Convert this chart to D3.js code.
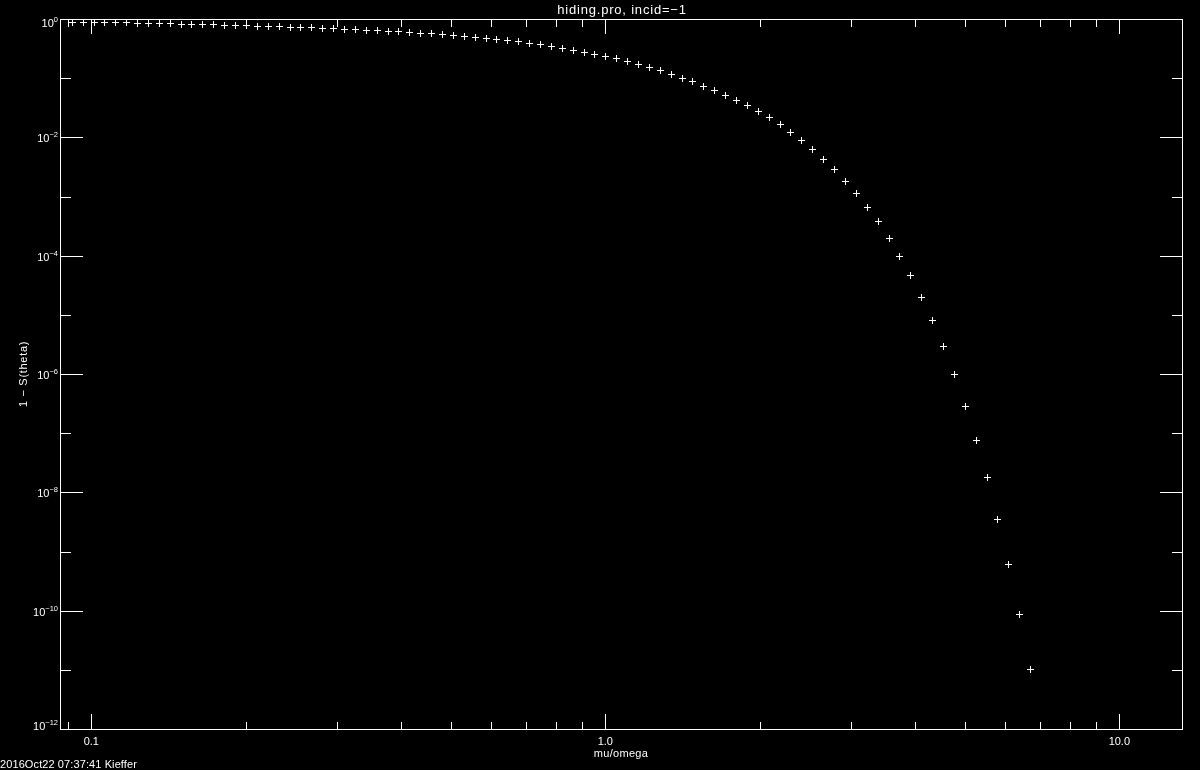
<!DOCTYPE html>
<html>
<head>
<meta charset="utf-8">
<script src="https://cdn.jsdelivr.net/npm/d3@7"></script>
<style>
  html, body { margin: 0; padding: 0; background: #000; }
  svg { display: block; will-change: transform; }
  text { fill: #fff; font-family: "Liberation Sans", Arial, sans-serif; }
</style>
</head>
<body>
<svg id="chart" width="1200" height="770"></svg>
<script>
// ---- data ----
const muOmega = [
  0.0916, 0.0962, 0.1010, 0.1060, 0.1113, 0.1169, 0.1227, 0.1289, 0.1353, 0.1421,
  0.1492, 0.1566, 0.1645, 0.1727, 0.1813, 0.1904, 0.1999, 0.2099, 0.2204, 0.2314,
  0.2430, 0.2551, 0.2679, 0.2813, 0.2953, 0.3101, 0.3256, 0.3419, 0.3590, 0.3769,
  0.3957, 0.4155, 0.4363, 0.4581, 0.4810, 0.5051, 0.5303, 0.5568, 0.5847, 0.6139,
  0.6446, 0.6768, 0.7107, 0.7462, 0.7835, 0.8227, 0.8638, 0.9070, 0.9524, 1.0000,
  1.0500, 1.1025, 1.1576, 1.2155, 1.2763, 1.3401, 1.4071, 1.4775, 1.5513, 1.6289,
  1.7103, 1.7959, 1.8856, 1.9799, 2.0789, 2.1829, 2.2920, 2.4066, 2.5270, 2.6533,
  2.7860, 2.9253, 3.0715, 3.2251, 3.3864, 3.5557, 3.7335, 3.9201, 4.1161, 4.3219,
  4.5380, 4.7649, 5.0032, 5.2533, 5.5160, 5.7918, 6.0814, 6.3855, 6.7048
];
const oneMinusS = [
  0.902, 0.895, 0.889, 0.885, 0.879, 0.873, 0.867, 0.861, 0.855, 0.849,
  0.839, 0.830, 0.820, 0.811, 0.802, 0.792, 0.783, 0.774, 0.764, 0.753,
  0.743, 0.733, 0.723, 0.711, 0.700, 0.689, 0.676, 0.664, 0.652, 0.638,
  0.622, 0.607, 0.590, 0.571, 0.552, 0.535, 0.518, 0.500, 0.482, 0.462,
  0.441, 0.419, 0.397, 0.375, 0.352, 0.329, 0.305, 0.282, 0.260, 0.238,
  0.216, 0.193, 0.172, 0.153, 0.135, 0.117, 0.102, 0.0881, 0.0741, 0.0624,
  0.0515, 0.0424, 0.0347, 0.0277, 0.0218, 0.0167, 0.0122, 0.00891, 0.00627, 0.00437,
  0.00288, 0.00186, 0.00114, 6.76e-4, 3.80e-4, 1.97e-4, 9.75e-5, 4.66e-5, 1.98e-5, 8.09e-6,
  2.94e-6, 9.89e-7, 2.84e-7, 7.59e-8, 1.79e-8, 3.51e-9, 6.08e-10, 8.69e-11, 1.02e-11
];
const xDomain = [0.0869, 13.24];
const yDomain = [1e-12, 1];
const xMajorTicks = [0.1, 1, 10];
const xTickLabels = ["0.1", "1.0", "10.0"];
const xMinorTicks = [0.09, 0.2, 0.3, 0.4, 0.5, 0.6, 0.7, 0.8, 0.9, 2, 3, 4, 5, 6, 7, 8, 9];
const yMajorTicks = [1, 1e-2, 1e-4, 1e-6, 1e-8, 1e-10, 1e-12];
const yTickExponents = ["0", "\u22122", "\u22124", "\u22126", "\u22128", "\u221210", "\u221212"];
const yMinorTicks = [1e-1, 1e-3, 1e-5, 1e-7, 1e-9, 1e-11];
const titleText = "hiding.pro, incid=\u22121";
const xTitle = "mu/omega";
const yTitle = "1 \u2212 S(theta)";
const footerText = "2016Oct22 07:37:41  Kieffer";

// ---- layout ----
const L = 60, R = 1182, T = 19, B = 729;
const svg = d3.select("#chart");
svg.append("rect").attr("width", 1200).attr("height", 770).attr("fill", "#000");

const x = d3.scaleLog().domain(xDomain).range([L, R]);
const y = d3.scaleLog().domain(yDomain).range([B, T]);

const g = svg.append("g").attr("shape-rendering", "crispEdges")
  .attr("stroke", "#fff").attr("stroke-width", 1).attr("fill", "none");

// frame
g.append("rect").attr("x", L + 0.5).attr("y", T + 0.5)
  .attr("width", R - L).attr("height", B - T);

// x ticks (bottom and top, inward)
function xTick(v, len) {
  const px = Math.round(x(v)) + 0.5;
  g.append("line").attr("x1", px).attr("x2", px).attr("y1", B).attr("y2", B - len);
  g.append("line").attr("x1", px).attr("x2", px).attr("y1", T).attr("y2", T + len);
}
xMajorTicks.forEach(v => xTick(v, 15));
xMinorTicks.forEach(v => xTick(v, 7.5));

// y ticks (left and right, inward)
function yTick(v, len) {
  const py = Math.round(y(v)) + 0.5;
  g.append("line").attr("x1", L).attr("x2", L + len).attr("y1", py).attr("y2", py);
  g.append("line").attr("x1", R + 1).attr("x2", R + 1 - len).attr("y1", py).attr("y2", py);
}
yMajorTicks.forEach(v => yTick(v, 23));
yMinorTicks.forEach(v => yTick(v, 11));

// x tick labels
svg.append("g").selectAll("text").data(xMajorTicks).join("text")
  .attr("x", d => x(d)).attr("y", 745)
  .attr("text-anchor", "middle").attr("font-size", 11)
  .text((d, i) => xTickLabels[i]);

// y tick labels: 10^n
const yl = svg.append("g").selectAll("text").data(yMajorTicks).join("text")
  .attr("x", 58)
  .attr("y", (d, i) => y(d) + (i === 0 ? 8 : (i === yMajorTicks.length - 1 ? 0.5 : 5)))
  .attr("text-anchor", "end").attr("font-size", 11);
yl.append("tspan").text("10");
yl.append("tspan").attr("font-size", 7.5).attr("dy", -5)
  .text((d, i) => yTickExponents[i]);

// data points: plus markers
svg.append("g").attr("shape-rendering", "crispEdges")
  .attr("stroke", "#fff").attr("stroke-width", 1)
  .selectAll("path").data(muOmega.map((v, i) => [v, oneMinusS[i]])).join("path")
  .attr("transform", d => `translate(${Math.round(x(d[0])) + 0.5},${Math.round(y(d[1])) + 0.5})`)
  .attr("d", "M-3.5,0H3.5M0,-3.5V3.5");

// titles
svg.append("text").attr("x", (L + R) / 2 + 1).attr("y", 13.5)
  .attr("text-anchor", "middle").attr("font-size", 13).attr("letter-spacing", 0.8)
  .text(titleText);
svg.append("text").attr("x", (L + R) / 2).attr("y", 757)
  .attr("text-anchor", "middle").attr("font-size", 11).attr("letter-spacing", 0.3)
  .text(xTitle);
svg.append("text")
  .attr("transform", `translate(26.5,${(T + B) / 2}) rotate(-90)`)
  .attr("text-anchor", "middle").attr("font-size", 11).attr("letter-spacing", 0.7)
  .text(yTitle);
svg.append("text").attr("x", 0).attr("y", 768)
  .attr("font-size", 11).attr("letter-spacing", 0.1)
  .text(footerText);
</script>
</body>
</html>
